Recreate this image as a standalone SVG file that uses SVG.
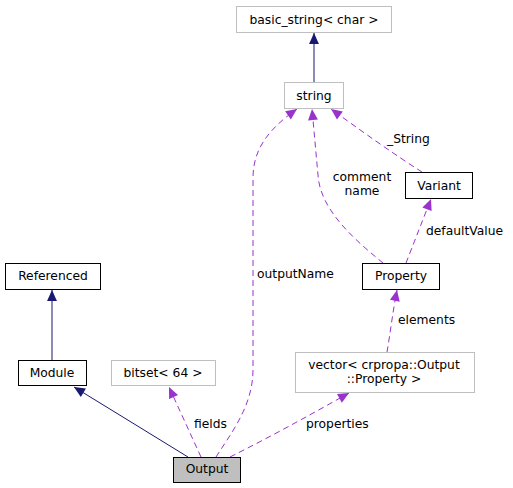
<svg xmlns="http://www.w3.org/2000/svg" width="513" height="488" viewBox="0 0 513 488">
<defs>
<style>
text{font-family:"DejaVu Sans","Liberation Sans",sans-serif;font-size:12.3px;fill:#000}
.c{text-anchor:middle}
.nb{fill:#fff;stroke:#000;stroke-width:1}
.ng{fill:#fff;stroke:#bfbfbf;stroke-width:1}
.inh{fill:none;stroke:#191970;stroke-width:1}
.use{fill:none;stroke:#9a32cd;stroke-width:1;stroke-dasharray:6,4}
</style>
<marker id="ah" viewBox="0 0 10 10" refX="10" refY="5" markerWidth="12" markerHeight="11" markerUnits="userSpaceOnUse" orient="auto"><path d="M0,0.5 L10,5 L0,9.5 z" fill="#191970"/></marker>
<marker id="ap" viewBox="0 0 10 10" refX="10" refY="5" markerWidth="12" markerHeight="11" markerUnits="userSpaceOnUse" orient="auto"><path d="M0,0.5 L10,5 L0,9.5 z" fill="#9a32cd"/></marker>
</defs>
<rect width="513" height="488" fill="#fff"/>
<g id="edges">
<path class="inh" d="M314,82 L314,33" marker-end="url(#ah)"/>
<path class="inh" d="M52,360 L52,290" marker-end="url(#ah)"/>
<path class="inh" d="M188,457 L74,387" marker-end="url(#ah)"/>
<path class="use" d="M201,457 L169,387" marker-end="url(#ap)"/>
<text x="194" y="428">fields</text>
<path class="use" d="M216,457 C232,432 253,405 253,370 L253,178 C253,148 270,128 297,109" marker-end="url(#ap)"/>
<text x="257" y="278">outputName</text>
<path class="use" d="M230,457 C270,437 310,415 349,393" marker-end="url(#ap)"/>
<text x="306" y="428">properties</text>
<path class="use" d="M383,263 C355,240 320,210 318,175 L312,109" marker-end="url(#ap)"/>
<text class="c" x="362" y="181">comment</text>
<text class="c" x="362" y="195">name</text>
<path class="use" d="M422,172 C395,155 360,130 331,109" marker-end="url(#ap)"/>
<text x="387" y="143">_String</text>
<path class="use" d="M406,263 C413,245 422,222 431,199" marker-end="url(#ap)"/>
<text x="426" y="235">defaultValue</text>
<path class="use" d="M387,352 C390,335 393,310 397,290" marker-end="url(#ap)"/>
<text x="398" y="324">elements</text>
</g>
<g id="basic_string">
<rect class="ng" x="236.5" y="6.5" width="155" height="26"/>
<text class="c" x="314" y="23.5">basic_string&lt; char &gt;</text>
</g>
<g id="string">
<rect class="ng" x="284.5" y="82.5" width="59" height="26"/>
<text class="c" x="314" y="99.5">string</text>
</g>
<g id="Variant">
<rect class="nb" x="405.5" y="172.5" width="67" height="26"/>
<text class="c" x="439" y="189.5">Variant</text>
</g>
<g id="Property">
<rect class="nb" x="362.5" y="263.5" width="77" height="26"/>
<text class="c" x="401" y="280">Property</text>
</g>
<g id="Referenced">
<rect class="nb" x="5.5" y="263.5" width="95" height="26"/>
<text class="c" x="53" y="280">Referenced</text>
</g>
<g id="Module">
<rect class="nb" x="18.5" y="360.5" width="68" height="25"/>
<text class="c" x="52" y="377">Module</text>
</g>
<g id="bitset">
<rect class="ng" x="111.5" y="360.5" width="104" height="25"/>
<text class="c" x="163" y="377">bitset&lt; 64 &gt;</text>
</g>
<g id="vector">
<rect class="ng" x="295.5" y="352.5" width="179" height="40"/>
<text class="c" x="384" y="369">vector&lt; crpropa::Output</text>
<text class="c" x="384" y="383">::Property &gt;</text>
</g>
<g id="Output">
<rect x="173.5" y="457.5" width="67" height="25" fill="#bfbfbf" stroke="#000"/>
<text class="c" x="207" y="473">Output</text>
</g>
</svg>
